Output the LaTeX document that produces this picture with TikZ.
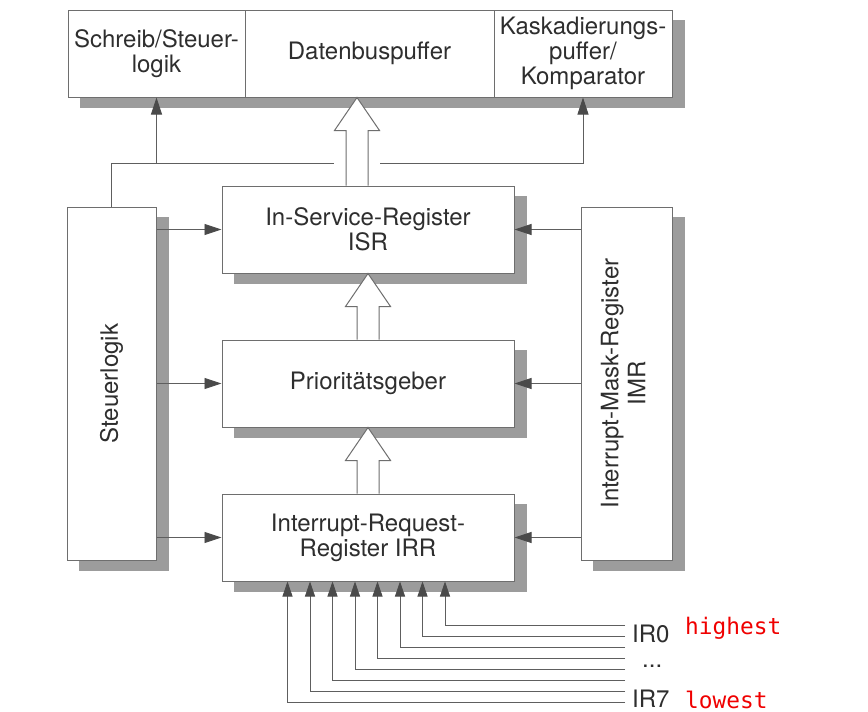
\documentclass[tikz,border=0pt]{standalone}
\usepackage{fontspec}
\setmainfont{TeX Gyre Heros}
\newfontfamily\redfont{DejaVu Sans Mono}
\usepackage{graphicx}
\usetikzlibrary{arrows.meta,calc}
\pgfdeclarelayer{back}
\pgfdeclarelayer{bg}
\pgfsetlayers{back,bg,main}
\definecolor{boxc}{HTML}{6E6E6E}
\definecolor{linec}{HTML}{5E5E5E}
\definecolor{tipc}{HTML}{4A4A4A}
\definecolor{shadowc}{HTML}{9C9C9C}
\definecolor{txtc}{HTML}{2E2E2E}
\definecolor{redc}{HTML}{F00000}
\newcommand\hollowup[2]{%
  \draw[hollow] ($(#1)+(-11,0)$) -- ($(#2)+(-11,33)$) -- ($(#2)+(-22.5,33)$) -- (#2)
    -- ($(#2)+(22.5,33)$) -- ($(#2)+(11,33)$) -- ($(#1)+(11,0)$);}
\begin{document}
\begin{tikzpicture}[x=1pt,y=-1pt,
  box/.style={draw=boxc, line width=1pt, fill=white, text=txtc, inner sep=0pt,
    font=\fontsize{24}{25}\selectfont, align=center},
  conn/.style={draw=linec, line width=0.9pt, -{Triangle[length=17pt,width=11pt,color=tipc]}},
  inconn/.style={draw=linec, line width=0.8pt, -{Triangle[length=15pt,width=10pt,color=tipc]}},
  hollow/.style={draw=boxc, line width=1pt, fill=white, line join=miter},
  shadowbox/.style={fill=shadowc},
  irlabel/.style={anchor=base west, text=txtc, inner sep=0pt, font=\fontsize{24}{25}\selectfont},
  redlabel/.style={anchor=base west, text=redc, inner sep=0pt, font=\redfont\fontsize{22.8}{24}\selectfont}
  ]
\begin{pgfonlayer}{back}
\fill[white] (0,0) rectangle (868,712);
\end{pgfonlayer}
\useasboundingbox (0,0) rectangle (868,712);

% top bar
\node[box, minimum width=177pt, minimum height=87pt] (schreib) at (156.5,53.5) {Schreib/Steuer-\\logik};
\node[box, minimum width=249pt, minimum height=87pt] (daten) at (369.5,53.5) {Datenbuspuffer};
\node[box, minimum width=178pt, minimum height=87pt] (kask) at (583,53.5) {Kaskadierungs-\\puffer/\\Komparator};

% side blocks
\node[box, minimum width=89pt, minimum height=353pt] (steu) at (111.5,383.5) {\rotatebox{90}{Steuerlogik}};
\node[box, minimum width=91pt, minimum height=353pt, font=\fontsize{24}{27}\selectfont] (imr) at (626.5,383.5)
  {\rotatebox{90}{\begin{tabular}{@{}c@{}}Interrupt-Mask-Register\\IMR\end{tabular}}};

% registers
\node[box, minimum width=292pt, minimum height=87pt] (isr) at (368,229.5) {In-Service-Register\\ISR};
\node[box, minimum width=292pt, minimum height=87pt] (prio) at (368,383.5) {Prioritätsgeber};
\node[box, minimum width=292pt, minimum height=87pt] (irr) at (368,537.5) {Interrupt-Request-\\Register IRR};

% shadows
\begin{pgfonlayer}{bg}
  \fill[shadowbox] ($(schreib.north west)+(12pt,-10pt)$) rectangle ($(kask.south east)+(12pt,-10pt)$);
  \foreach \n in {steu,imr,isr,prio,irr}
    \fill[shadowbox] ($(\n.north west)+(12pt,-10pt)$) rectangle ($(\n.south east)+(12pt,-10pt)$);
\end{pgfonlayer}

% control connections to the top bar
\coordinate (busy) at (0,163);
\draw[conn] (steu.north) -- (steu.north |- busy) -| (kask.south);
\draw[conn] (schreib.south |- busy) -- (schreib.south);

% side arrows
\draw[conn] (steu.east |- isr.west) -- (isr.west);
\draw[conn] (steu.east |- prio.west) -- (prio.west);
\draw[conn] (steu.east |- irr.west) -- (irr.west);
\draw[conn] (imr.west |- isr.east) -- (isr.east);
\draw[conn] (imr.west |- prio.east) -- (prio.east);
\draw[conn] (imr.west |- irr.east) -- (irr.east);

% hollow bus arrows
\coordinate (h1b) at ($(isr.north)+(-11,0)$);
\coordinate (h1t) at (h1b |- schreib.south);
\fill[white] ($(h1b |- busy)+(-23,-3)$) rectangle ($(h1b |- busy)+(23,3)$);
\hollowup{h1b}{h1t}
\hollowup{prio.north}{isr.south}
\hollowup{irr.north}{prio.south}

% interrupt inputs
\foreach \i in {0,...,7}{
  \coordinate (ir\i) at (625,{702-11*\i});
  \draw[inconn] (ir\i) -| ($(irr.south west)+({66+22.5*\i},0)$);
}
\node[irlabel] (lir0) at (632,642) {IR0};
\node[irlabel] (ldots) at (642,667) {...};
\node[irlabel] (lir7) at (632,707) {IR7};
\node[redlabel] (hi) at (685,634) {highest};
\node[redlabel] (lo) at (685,708) {lowest};
\end{tikzpicture}
\end{document}
